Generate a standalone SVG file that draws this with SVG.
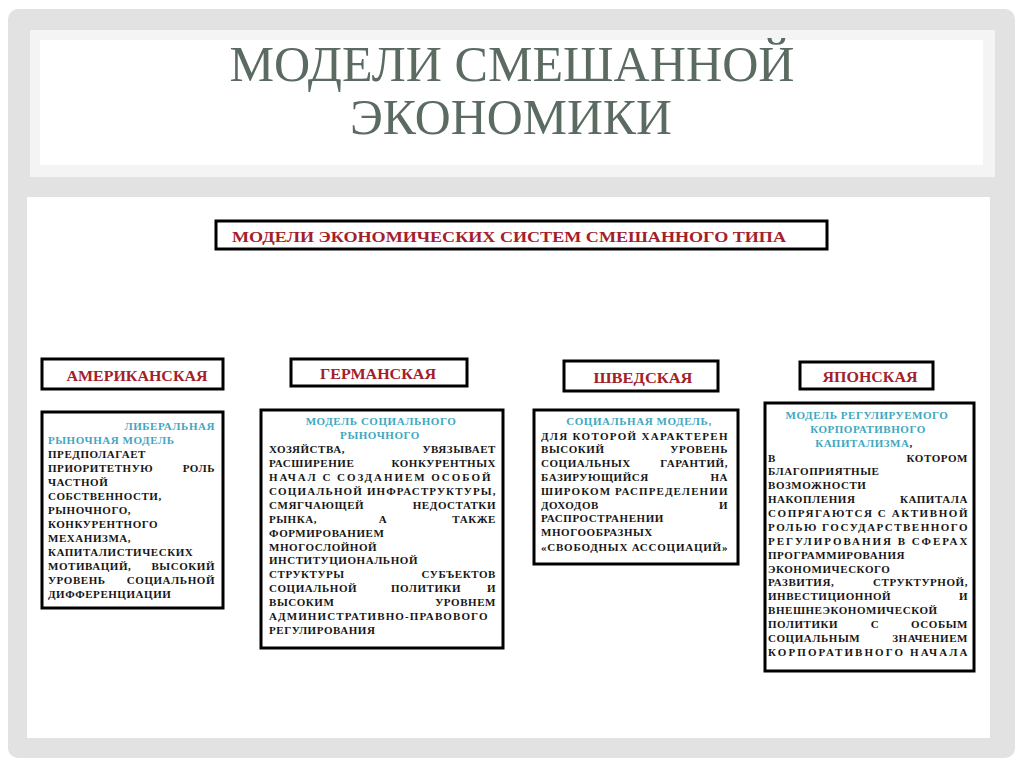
<svg xmlns="http://www.w3.org/2000/svg" width="1024" height="767" viewBox="0 0 1024 767">
<style>
.box{fill:#fff;stroke:#000;stroke-width:3}
.lbl{font-family:"Liberation Serif",serif;font-weight:bold;font-size:14px;fill:#a3202a;text-anchor:middle}
.t{font-family:"Liberation Serif",serif;font-weight:bold;font-size:11px;letter-spacing:0.55px;fill:#161616}
.c{fill:#40a7bf}
.e{text-anchor:end}
.m{text-anchor:middle}
.ttl{font-family:"Liberation Serif",serif;font-size:51px;fill:#5b6b62;text-anchor:middle}
</style>
<rect x="0" y="0" width="1024" height="767" fill="#fff"/>
<rect x="8" y="9" width="1007" height="749" rx="10" fill="#e2e2e2"/>
<rect x="30" y="30" width="965" height="147" fill="#f4f4f4"/>
<rect x="40" y="40" width="943" height="125" fill="#fff"/>
<rect x="27" y="197" width="963" height="541" fill="#fff"/>

<g id="title">
<text class="ttl" x="512" y="81" textLength="565" lengthAdjust="spacingAndGlyphs">МОДЕЛИ СМЕШАННОЙ</text>
<text class="ttl" x="511" y="134" textLength="322" lengthAdjust="spacingAndGlyphs">ЭКОНОМИКИ</text>
</g>

<g id="connectors"/>

<g id="header">
<rect class="box" x="216" y="221" width="611" height="28"/>
<text class="lbl" x="509" y="242" font-size="15" textLength="554" lengthAdjust="spacingAndGlyphs">МОДЕЛИ ЭКОНОМИЧЕСКИХ СИСТЕМ СМЕШАННОГО ТИПА</text>
</g>

<g id="american">
<rect class="box" x="42" y="359" width="181" height="30"/>
<text class="lbl" x="137" y="381" textLength="141" lengthAdjust="spacingAndGlyphs">АМЕРИКАНСКАЯ</text>
</g>
<g id="german">
<rect class="box" x="291" y="359" width="176" height="27"/>
<text class="lbl" x="378" y="379" textLength="116" lengthAdjust="spacingAndGlyphs">ГЕРМАНСКАЯ</text>
</g>
<g id="swedish">
<rect class="box" x="564" y="361" width="154" height="30"/>
<text class="lbl" x="643" y="383" textLength="99" lengthAdjust="spacingAndGlyphs">ШВЕДСКАЯ</text>
</g>
<g id="japanese">
<rect class="box" x="800" y="362" width="133" height="27"/>
<text class="lbl" x="870" y="382" textLength="95" lengthAdjust="spacingAndGlyphs">ЯПОНСКАЯ</text>
</g>

<g id="american-desc">
<rect class="box" x="42" y="412" width="181" height="196"/>
<text class="t c e" x="215" y="430">ЛИБЕРАЛЬНАЯ</text>
<text class="t c" x="48" y="444">РЫНОЧНАЯ МОДЕЛЬ</text>
<text class="t" x="48" y="458">ПРЕДПОЛАГАЕТ</text>
<text class="t" x="48" y="472">ПРИОРИТЕТНУЮ</text><text class="t e" x="215" y="472">РОЛЬ</text>
<text class="t" x="48" y="486">ЧАСТНОЙ</text>
<text class="t" x="48" y="500">СОБСТВЕННОСТИ,</text>
<text class="t" x="48" y="514">РЫНОЧНОГО,</text>
<text class="t" x="48" y="528">КОНКУРЕНТНОГО</text>
<text class="t" x="48" y="542">МЕХАНИЗМА,</text>
<text class="t" x="48" y="556">КАПИТАЛИСТИЧЕСКИХ</text>
<text class="t" x="48" y="570">МОТИВАЦИЙ,</text><text class="t e" x="215" y="570">ВЫСОКИЙ</text>
<text class="t" x="48" y="584">УРОВЕНЬ</text><text class="t e" x="215" y="584">СОЦИАЛЬНОЙ</text>
<text class="t" x="48" y="598">ДИФФЕРЕНЦИАЦИИ</text>
</g>

<g id="german-desc">
<rect class="box" x="261" y="410" width="242" height="238"/>
<text class="t c m" x="381" y="425">МОДЕЛЬ СОЦИАЛЬНОГО</text>
<text class="t c m" x="380" y="439">РЫНОЧНОГО</text>
<text class="t" x="269" y="453">ХОЗЯЙСТВА,</text><text class="t e" x="496" y="453">УВЯЗЫВАЕТ</text>
<text class="t" x="269" y="467">РАСШИРЕНИЕ</text><text class="t e" x="496" y="467">КОНКУРЕНТНЫХ</text>
<text class="t" x="269" y="481" textLength="222" lengthAdjust="spacing">НАЧАЛ С СОЗДАНИЕМ ОСОБОЙ</text>
<text class="t" x="269" y="495" textLength="227" lengthAdjust="spacing">СОЦИАЛЬНОЙ ИНФРАСТРУКТУРЫ,</text>
<text class="t" x="269" y="509">СМЯГЧАЮЩЕЙ</text><text class="t e" x="496" y="509">НЕДОСТАТКИ</text>
<text class="t" x="269" y="523">РЫНКА,</text><text class="t m" x="383" y="523">А</text><text class="t e" x="496" y="523">ТАКЖЕ</text>
<text class="t" x="269" y="537">ФОРМИРОВАНИЕМ</text>
<text class="t" x="269" y="551">МНОГОСЛОЙНОЙ</text>
<text class="t" x="269" y="564">ИНСТИТУЦИОНАЛЬНОЙ</text>
<text class="t" x="269" y="578">СТРУКТУРЫ</text><text class="t e" x="496" y="578">СУБЪЕКТОВ</text>
<text class="t" x="269" y="592">СОЦИАЛЬНОЙ</text><text class="t" x="391" y="592">ПОЛИТИКИ</text><text class="t e" x="496" y="592">И</text>
<text class="t" x="269" y="606">ВЫСОКИМ</text><text class="t e" x="496" y="606">УРОВНЕМ</text>
<text class="t" x="269" y="620" textLength="219" lengthAdjust="spacing">АДМИНИСТРАТИВНО-ПРАВОВОГО</text>
<text class="t" x="269" y="634">РЕГУЛИРОВАНИЯ</text>
</g>

<g id="swedish-desc">
<rect class="box" x="534" y="410" width="204" height="154"/>
<text class="t c m" x="639" y="425">СОЦИАЛЬНАЯ МОДЕЛЬ,</text>
<text class="t" x="541" y="440" textLength="187" lengthAdjust="spacing">ДЛЯ КОТОРОЙ ХАРАКТЕРЕН</text>
<text class="t" x="541" y="453">ВЫСОКИЙ</text><text class="t e" x="728" y="453">УРОВЕНЬ</text>
<text class="t" x="541" y="467">СОЦИАЛЬНЫХ</text><text class="t e" x="728" y="467">ГАРАНТИЙ,</text>
<text class="t" x="541" y="481">БАЗИРУЮЩИЙСЯ</text><text class="t e" x="728" y="481">НА</text>
<text class="t" x="541" y="495" textLength="187" lengthAdjust="spacing">ШИРОКОМ РАСПРЕДЕЛЕНИИ</text>
<text class="t" x="541" y="509">ДОХОДОВ</text><text class="t e" x="728" y="509">И</text>
<text class="t" x="541" y="522">РАСПРОСТРАНЕНИИ</text>
<text class="t" x="541" y="536">МНОГООБРАЗНЫХ</text>
<text class="t" x="541" y="551" textLength="187" lengthAdjust="spacing">«СВОБОДНЫХ АССОЦИАЦИЙ»</text>
</g>

<g id="japanese-desc">
<rect class="box" x="765" y="403" width="209" height="268"/>
<text class="t c m" x="867" y="419">МОДЕЛЬ РЕГУЛИРУЕМОГО</text>
<text class="t c m" x="868" y="433">КОРПОРАТИВНОГО</text>
<text class="t c m" x="864" y="447">КАПИТАЛИЗМА<tspan fill="#161616">,</tspan></text>
<text class="t" x="768" y="462">В</text><text class="t e" x="968" y="462">КОТОРОМ</text>
<text class="t" x="768" y="475">БЛАГОПРИЯТНЫЕ</text>
<text class="t" x="768" y="489">ВОЗМОЖНОСТИ</text>
<text class="t" x="768" y="503">НАКОПЛЕНИЯ</text><text class="t e" x="968" y="503">КАПИТАЛА</text>
<text class="t" x="768" y="517" textLength="200" lengthAdjust="spacing">СОПРЯГАЮТСЯ С АКТИВНОЙ</text>
<text class="t" x="768" y="531" textLength="200" lengthAdjust="spacing">РОЛЬЮ ГОСУДАРСТВЕННОГО</text>
<text class="t" x="768" y="545" textLength="200" lengthAdjust="spacing">РЕГУЛИРОВАНИЯ В СФЕРАХ</text>
<text class="t" x="768" y="559">ПРОГРАММИРОВАНИЯ</text>
<text class="t" x="768" y="573">ЭКОНОМИЧЕСКОГО</text>
<text class="t" x="768" y="586">РАЗВИТИЯ,</text><text class="t e" x="968" y="586">СТРУКТУРНОЙ,</text>
<text class="t" x="768" y="600">ИНВЕСТИЦИОННОЙ</text><text class="t e" x="968" y="600">И</text>
<text class="t" x="768" y="614">ВНЕШНЕЭКОНОМИЧЕСКОЙ</text>
<text class="t" x="768" y="628">ПОЛИТИКИ</text><text class="t m" x="875" y="628">С</text><text class="t e" x="968" y="628">ОСОБЫМ</text>
<text class="t" x="768" y="642">СОЦИАЛЬНЫМ</text><text class="t e" x="968" y="642">ЗНАЧЕНИЕМ</text>
<text class="t" x="768" y="656" textLength="200" lengthAdjust="spacing">КОРПОРАТИВНОГО НАЧАЛА</text>
</g>
</svg>
